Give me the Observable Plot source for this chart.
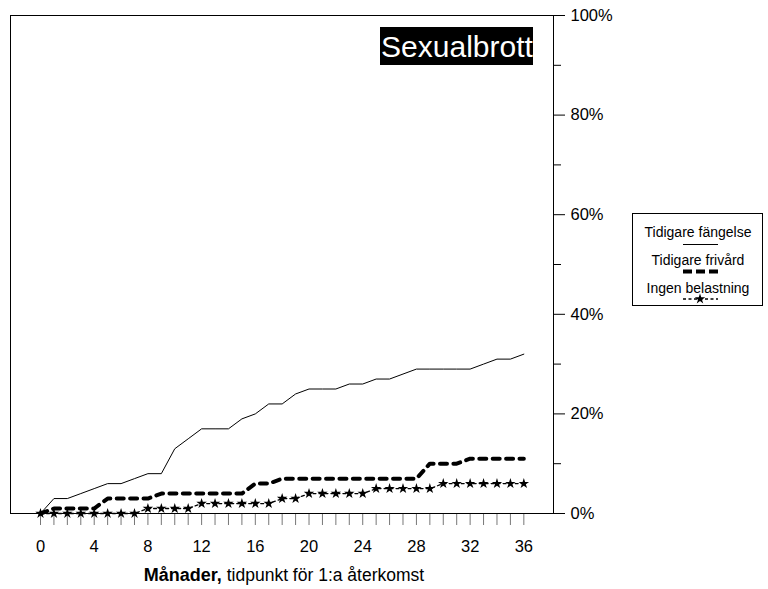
<!DOCTYPE html>
<html><head><meta charset="utf-8">
<script src="https://cdn.jsdelivr.net/npm/d3@7"></script>
<script src="https://cdn.jsdelivr.net/npm/@observablehq/plot@0.6"></script>
<style>
body{margin:0;background:#fff;}
#chart{position:relative;width:768px;height:589px;}
</style>
</head><body><div id="chart"></div>
<script>
// ---- data ----
const months = [0,1,2,3,4,5,6,7,8,9,10,11,12,13,14,15,16,17,18,19,20,21,22,23,24,25,26,27,28,29,30,31,32,33,34,35,36];
const fangelse = [0,3,3,4,5,6,6,7,8,8,13,15,17,17,17,19,20,22,22,24,25,25,25,26,26,27,27,28,29,29,29,29,29,30,31,31,32];
const frivard  = [0,1,1,1,1,3,3,3,3,4,4,4,4,4,4,4,6,6,7,7,7,7,7,7,7,7,7,7,7,10,10,10,11,11,11,11,11];
const ingen    = [0,0,0,0,0,0,0,0,1,1,1,1,2,2,2,2,2,2,3,3,4,4,4,4,4,5,5,5,5,5,6,6,6,6,6,6,6];
const xTickLabels = [0,4,8,12,16,20,24,28,32,36];
const yTickLabels = [0,20,40,60,80,100];
const yMinorTicks = [10,30,50,70,90];
const seriesNames = ["Tidigare fängelse","Tidigare frivård","Ingen belastning"];
const chartTitle = "Sexualbrott";
const xTitleBold = "Månader,";
const xTitleRest = " tidpunkt för 1:a återkomst";

const font = "'Liberation Sans', Arial, Helvetica, sans-serif";
const rows = arr => months.map((m, i) => ({month: m, value: arr[i]}));

const plot = Plot.plot({
  width: 768, height: 589,
  marginLeft: 10, marginRight: 215, marginTop: 15, marginBottom: 76,
  style: {fontFamily: font, fontSize: "16.5px", color: "black", background: "white", overflow: "visible"},
  x: {domain: [-2.235, 38.21]},
  y: {domain: [0, 100]},
  marks: [
    Plot.axisX(months, {tickSize: 12, stroke: "#777", tickFormat: () => "", label: null}),
    Plot.axisX(xTickLabels, {tickSize: 0, tickPadding: 27, label: null, fontSize: 16.5}),
    Plot.axisY(yTickLabels, {anchor: "right", tickSize: 11, tickPadding: 6, tickFormat: d => d + "%", label: null, fontSize: 16.5}),
    Plot.axisY(yMinorTicks, {anchor: "right", tickSize: 7, tickFormat: () => "", label: null}),
    Plot.line(rows(fangelse), {x: "month", y: "value", stroke: "black", strokeWidth: 1}),
    Plot.line(rows(frivard), {x: "month", y: "value", stroke: "black", strokeWidth: 4, strokeDasharray: "7,6.4"}),
    Plot.line(rows(ingen), {x: "month", y: "value", stroke: "black", strokeWidth: 1.3, strokeDasharray: "3,3"}),
    Plot.dot(rows(ingen), {x: "month", y: "value", symbol: "star", r: 3.3, fill: "black"}),
    Plot.frame({stroke: "black"})
  ]
});

document.getElementById("chart").appendChild(plot);
const svg = d3.select(plot);

// title box
const tg = svg.append("g");
tg.append("rect").attr("x", 380).attr("y", 27).attr("width", 153).attr("height", 38).attr("fill", "black");
tg.append("text").attr("x", 457).attr("y", 56.5).attr("text-anchor", "middle")
  .attr("fill", "white").style("font-family", font).style("font-size", "30px").text(chartTitle);

// x title
const xt = svg.append("text").attr("x", 284).attr("y", 581).attr("text-anchor", "middle")
  .attr("fill", "black").style("font-family", font).style("font-size", "18px");
xt.append("tspan").style("font-weight", "bold").text(xTitleBold);
xt.append("tspan").style("font-size", "17.5px").text(xTitleRest);

// legend
const lg = svg.append("g").style("font-family", font).style("font-size", "14px");
lg.append("rect").attr("x", 632.5).attr("y", 213.5).attr("width", 130).attr("height", 92)
  .attr("fill", "white").attr("stroke", "black");
const baselines = [237, 265, 293];
seriesNames.forEach((n, i) => {
  lg.append("text").attr("x", 698).attr("y", baselines[i]).attr("text-anchor", "middle").attr("fill", "black").text(n);
});
lg.append("line").attr("x1", 683).attr("x2", 718).attr("y1", 244.5).attr("y2", 244.5).attr("stroke", "black");
lg.append("line").attr("x1", 683).attr("x2", 718).attr("y1", 271.5).attr("y2", 271.5)
  .attr("stroke", "black").attr("stroke-width", 4).attr("stroke-dasharray", "9,4");
lg.append("line").attr("x1", 683).attr("x2", 718).attr("y1", 299).attr("y2", 299)
  .attr("stroke", "black").attr("stroke-width", 1.3).attr("stroke-dasharray", "3,2.5");
lg.append("path").attr("transform", "translate(700,299)")
  .attr("d", d3.symbol(d3.symbolStar, Math.PI * 3.3 * 3.3)()).attr("fill", "black");
</script>
</body></html>
